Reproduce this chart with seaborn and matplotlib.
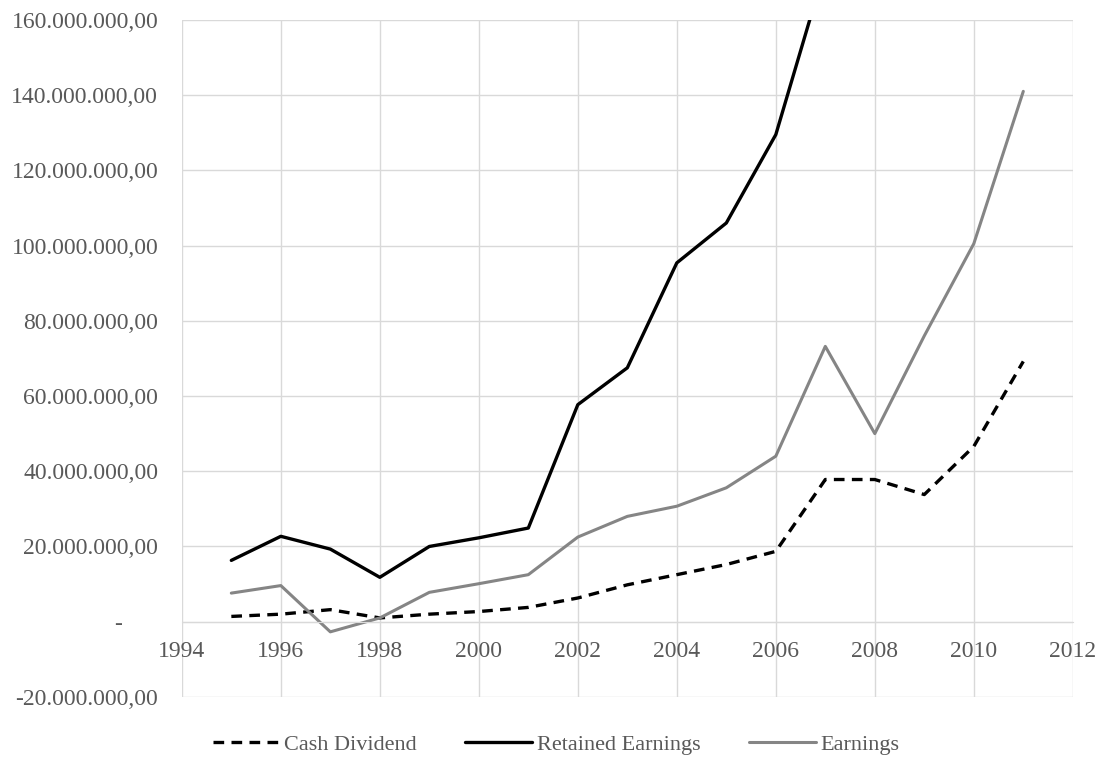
import numpy as np
import pandas as pd
import matplotlib
matplotlib.use("Agg")
import matplotlib.pyplot as plt
import matplotlib.ticker as mticker
import seaborn as sns

# Values (in millions)
years = list(range(1995, 2012))
cash_dividend = [1.4, 2.0, 3.2, 1.0, 2.0, 2.7, 3.8, 6.3, 9.8, 12.5, 15.2, 18.7,
                 37.8, 37.8, 33.8, 46.6, 69.2]
retained_years = list(range(1995, 2008))
retained_earnings = [16.3, 22.7, 19.3, 11.8, 20.0, 22.3, 24.9, 57.7, 67.5, 95.4,
                     106.0, 129.5, 174.0]
earnings = [7.6, 9.6, -2.7, 1.0, 7.8, 10.1, 12.5, 22.5, 28.0, 30.7, 35.6, 44.0,
            73.2, 50.0, 76.0, 100.5, 141.0]

SCALE = 1e6
cd_df = pd.DataFrame({"year": years, "value": np.array(cash_dividend) * SCALE})
re_df = pd.DataFrame({"year": retained_years, "value": np.array(retained_earnings) * SCALE})
e_df = pd.DataFrame({"year": years, "value": np.array(earnings) * SCALE})

sns.set_style("white")
plt.rcParams["font.family"] = ["Liberation Serif", "DejaVu Serif"]

fig = plt.figure(figsize=(11.02, 7.65), dpi=100)
ax = fig.add_axes([0.165, 0.089, 0.8085, 0.885])

sns.lineplot(data=cd_df, x="year", y="value", ax=ax, color="black",
             linewidth=2.4, linestyle=(0, (3.2, 2.2)), label="Cash Dividend")
sns.lineplot(data=re_df, x="year", y="value", ax=ax, color="black",
             linewidth=2.4, label="Retained Earnings")
sns.lineplot(data=e_df, x="year", y="value", ax=ax, color="#858585",
             linewidth=2.2, label="Earnings")

ax.set_xlim(1994, 2012)
ax.set_ylim(-20e6, 160e6)
ax.set_xticks(range(1994, 2013, 2))
ax.set_yticks(np.arange(-20e6, 160e6 + 1, 20e6))


def fmt(v, pos):
    # accounting style: dash for zero, dot thousands, comma decimals
    if abs(v) < 1:
        return "-      "
    s = f"{v:,.2f}"
    return s.replace(",", "X").replace(".", ",").replace("X", ".")


ax.yaxis.set_major_formatter(mticker.FuncFormatter(fmt))
ax.grid(True, color="#d9d9d9", linewidth=1.0)
ax.set_axisbelow(True)
for side in ["top", "right", "left"]:
    ax.spines[side].set_visible(False)
ax.spines["bottom"].set_position(("data", 0))
ax.spines["bottom"].set_color("#d9d9d9")
ax.tick_params(axis="both", length=0, labelsize=17, colors="#595959")
ax.tick_params(axis="y", pad=17)
ax.tick_params(axis="x", pad=14)
ax.set_xlabel("")
ax.set_ylabel("")

ax.legend(loc="center", bbox_to_anchor=(0.42, -0.071), ncol=3, frameon=False,
          fontsize=16, handlelength=3.0, handletextpad=0.2, columnspacing=2.2,
          labelcolor="#595959")

fig.savefig("out.png", dpi=100)
